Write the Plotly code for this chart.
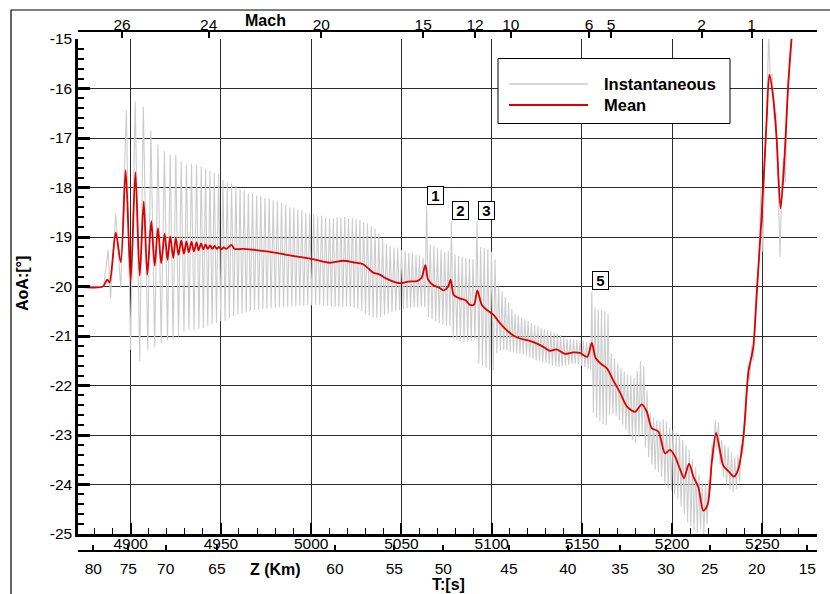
import plotly.graph_objects as go

# ---------------------------------------------------------------------------
# Angle of attack during the entry: instantaneous signal (extrema) and mean
# ---------------------------------------------------------------------------
inst_t = [
    # entry and first large swings
    4871.0, 4885.0, 4887.5, 4888.8, 4891.7, 4894.5, 4897.6, 4899.9, 4902.5, 4905.0,
    4907.0, 4909.5, 4911.2, 4913.3, 4915.1, 4916.9, 4918.7, 4920.4, 4921.9, 4923.5,
    4925.0, 4926.5, 4928.0, 4929.5, 4930.9, 4932.3, 4933.7, 4935.1, 4936.5, 4937.8,
    4939.1, 4940.3, 4941.5, 4942.7, 4943.9, 4945.1, 4946.3, 4947.5, 4948.7, 4949.9,
    # slowly damped oscillation
    4951.1, 4952.3, 4953.5, 4954.7, 4955.9, 4957.1, 4958.3, 4959.4, 4960.6, 4961.7,
    4962.9, 4964.0, 4965.2, 4966.3, 4967.5, 4968.6, 4969.8, 4970.9, 4972.1, 4973.2,
    4974.4, 4975.5, 4976.7, 4977.8, 4979.0, 4980.1, 4981.3, 4982.4, 4983.6, 4984.7,
    4985.9, 4987.0, 4988.2, 4989.3, 4990.4, 4991.5, 4992.6, 4993.7, 4994.8, 4995.9,
    4997.0, 4998.1, 4999.2, 5000.3, 5001.4, 5002.5, 5003.6, 5004.7, 5005.8, 5006.9,
    5008.0, 5009.1, 5010.2,
    5011.2, 5012.3, 5013.3, 5014.4, 5015.4, 5016.5, 5017.5, 5018.6, 5019.6, 5020.7,
    5021.7, 5022.8, 5023.8, 5024.9, 5025.9, 5027.0, 5028.0, 5029.1, 5030.1, 5031.2,
    5032.2, 5033.3, 5034.3, 5035.4, 5036.4, 5037.5, 5038.5, 5039.6, 5040.6, 5041.7,
    5042.7, 5043.8, 5044.8, 5045.9, 5046.9, 5048.0, 5049.0, 5050.1, 5051.1, 5052.1,
    5053.1, 5054.1, 5055.1, 5056.1, 5057.1, 5058.1, 5059.0, 5060.0, 5061.0, 5062.0,
    5063.0, 5064.0,
    # after event 1
    5065.0, 5066.0, 5067.0, 5068.0, 5069.0, 5070.0, 5071.0, 5072.0, 5073.0, 5074.0,
    5075.0, 5076.0, 5076.9, 5077.7,
    # after event 2
    5078.7, 5079.7, 5080.7, 5081.7, 5082.7, 5083.7, 5084.7, 5085.7, 5086.7, 5087.7,
    5088.7, 5089.7, 5090.8, 5091.9,
    # after event 3
    5092.9, 5093.9, 5094.9, 5095.9, 5096.9, 5097.9, 5098.9, 5099.9, 5100.9, 5101.9,
    5102.9, 5103.9, 5104.9,
    5105.8, 5106.7, 5107.6, 5108.5, 5109.4, 5110.3, 5111.2, 5112.1, 5113.0, 5113.9,
    5114.8, 5115.7, 5116.6, 5117.5, 5118.4, 5119.3, 5120.2, 5121.1, 5122.0, 5122.9,
    5123.8, 5124.7, 5125.6, 5126.5, 5127.4, 5128.3, 5129.2, 5130.1, 5131.0, 5131.9,
    5132.8, 5133.7, 5134.6, 5135.5, 5136.4, 5137.3, 5138.2, 5139.1, 5140.0, 5140.9,
    5141.8, 5142.7, 5143.6, 5144.5, 5145.4, 5146.3, 5147.2, 5148.1, 5149.0, 5149.9,
    5150.8, 5151.7, 5152.6, 5153.5, 5154.3, 5154.9, 5155.5,
    # after event 5
    5156.4, 5157.3, 5158.2, 5159.1, 5160.0, 5160.9, 5161.8, 5162.7, 5163.6, 5164.5,
    5165.4,
    5166.3, 5167.2, 5168.1, 5169.0, 5169.9, 5170.8, 5171.7, 5172.6, 5173.5, 5174.4,
    5175.3, 5176.2, 5177.1, 5178.0, 5178.9, 5179.8, 5180.7, 5181.6, 5182.5, 5183.4,
    5184.3, 5185.2, 5186.1, 5187.0, 5187.9, 5188.8, 5189.7, 5190.6, 5191.5, 5192.4,
    5193.3, 5194.2, 5195.1, 5196.0, 5196.9, 5197.8, 5198.7, 5199.6, 5200.5, 5201.4,
    5202.3, 5203.2, 5204.1, 5205.0, 5205.9, 5206.8, 5207.7, 5208.6, 5209.5, 5210.4,
    5211.3, 5212.2, 5213.1, 5214.0, 5214.9, 5215.8, 5216.7, 5217.6, 5218.5, 5219.4,
    5220.3, 5221.2, 5222.1, 5223.0, 5223.9, 5224.8, 5225.7, 5226.6, 5227.5, 5228.4,
    5229.3, 5230.2, 5231.1, 5232.0, 5232.9, 5233.8, 5234.7, 5235.6, 5236.5, 5237.4,
    # transonic pull-up
    5238.3, 5239.2, 5240.1, 5241.0, 5242.0, 5243.0, 5244.0, 5245.0, 5246.0, 5247.0,
    5248.0, 5249.3, 5250.3, 5251.2, 5252.3, 5253.5, 5254.5, 5255.5, 5256.5, 5257.5,
    5258.7, 5259.8, 5260.8, 5261.7, 5262.7, 5263.8, 5265.0, 5266.5,
]
inst_aoa = [
    -20.00, -20.00, -19.26, -20.23, -18.53, -20.03, -16.44, -21.28, -16.26, -21.51,
    -16.37, -21.28, -16.85, -21.22, -17.13, -21.15, -17.27, -21.09, -17.34, -21.06,
    -17.34, -21.01, -17.47, -20.91, -17.54, -20.87, -17.52, -20.88, -17.54, -20.86,
    -17.58, -20.84, -17.62, -20.80, -17.66, -20.76, -17.70, -20.73, -17.72, -20.70,
    -17.85, -20.69, -17.90, -20.64, -17.92, -20.60, -17.96, -20.57, -18.03, -20.54,
    -18.05, -20.52, -18.12, -20.50, -18.11, -20.48, -18.16, -20.47, -18.17, -20.46,
    -18.21, -20.45, -18.22, -20.44, -18.26, -20.43, -18.27, -20.42, -18.31, -20.42,
    -18.34, -20.41, -18.40, -20.40, -18.41, -20.40, -18.45, -20.39, -18.46, -20.39,
    -18.51, -20.38, -18.52, -20.38, -18.54, -20.37, -18.58, -20.37, -18.57, -20.38,
    -18.61, -20.39, -18.62,
    -20.40, -18.62, -20.41, -18.60, -20.42, -18.61, -20.42, -18.59, -20.41, -18.62,
    -20.41, -18.61, -20.43, -18.64, -20.46, -18.65, -20.50, -18.70, -20.55, -18.72,
    -20.59, -18.79, -20.62, -18.84, -20.63, -18.94, -20.62, -19.04, -20.58, -19.14,
    -20.54, -19.17, -20.52, -19.21, -20.50, -19.22, -20.48, -19.27, -20.46, -19.28,
    -20.44, -19.32, -20.43, -19.32, -20.42, -19.37, -20.42, -19.37, -20.41, -19.42,
    -20.42, -18.38,
    -20.62, -19.15, -20.66, -19.18, -20.70, -19.22, -20.74, -19.26, -20.77, -19.30,
    -20.79, -19.28, -20.80, -18.68,
    -21.05, -19.35, -21.08, -19.38, -21.10, -19.40, -21.12, -19.42, -21.12, -19.44,
    -21.10, -19.45, -21.08, -18.68,
    -21.55, -19.20, -21.60, -19.22, -21.64, -19.25, -21.68, -19.30, -21.70, -19.45,
    -21.35, -20.00, -21.30,
    -20.10, -21.28, -20.22, -21.30, -20.32, -21.32, -20.45, -21.33, -20.55, -21.35,
    -20.58, -21.36, -20.62, -21.38, -20.66, -21.40, -20.70, -21.43, -20.74, -21.46,
    -20.78, -21.49, -20.80, -21.51, -20.84, -21.53, -20.86, -21.55, -20.88, -21.57,
    -20.90, -21.60, -20.93, -21.62, -20.95, -21.62, -20.98, -21.61, -21.02, -21.60,
    -21.05, -21.58, -21.06, -21.57, -21.07, -21.56, -21.08, -21.57, -21.10, -21.60,
    -21.10, -21.63, -21.12, -21.66, -21.13, -21.68, -20.10,
    -22.55, -20.42, -22.65, -20.45, -22.72, -20.47, -22.78, -20.50, -22.80, -20.55,
    -22.60,
    -21.35, -22.58, -21.45, -22.62, -21.55, -22.70, -21.65, -22.80, -21.72, -22.90,
    -21.78, -23.00, -21.80, -23.10, -21.85, -23.15, -21.70, -23.05, -21.50, -22.98,
    -21.60, -23.25, -22.10, -23.45, -22.55, -23.60, -22.65, -23.70, -22.70, -23.75,
    -22.72, -23.85, -22.68, -24.00, -22.75, -24.08, -22.85, -24.12, -22.90, -24.20,
    -22.95, -24.30, -23.00, -24.45, -23.10, -24.60, -23.20, -24.75, -23.30, -24.85,
    -23.50, -24.92, -23.65, -24.98, -23.80, -24.90, -23.95, -25.00, -24.00, -24.80,
    -23.90, -24.10, -23.20, -23.50, -22.70, -23.30, -22.75, -23.60, -23.10, -23.85,
    -23.20, -24.00, -23.25, -24.10, -23.35, -24.15, -23.45, -24.10, -23.40, -23.95,
    -23.20, -23.40, -22.90, -22.60, -21.60, -21.90, -21.20, -21.50, -20.60, -20.30,
    -19.50, -18.00, -19.30, -17.60, -16.80, -14.90, -15.90, -15.70, -16.60, -16.50,
    -17.80, -19.40, -18.00, -17.40, -17.90, -16.30, -15.40, -14.80,
]
assert len(inst_t) == len(inst_aoa)

mean_t = [
    4871.0, 4884.5, 4887.0, 4888.3, 4891.7, 4894.5, 4897.2, 4900.0, 4902.6, 4905.0,
    4907.2, 4909.2, 4911.4, 4913.3, 4915.1, 4916.9, 4918.8, 4920.4, 4921.9, 4923.6,
    4925.0, 4926.5, 4928.0, 4929.5, 4930.9, 4932.2, 4933.7, 4935.0, 4936.5, 4937.6,
    4939.0, 4940.2, 4941.5, 4942.7, 4944.0, 4945.2, 4946.5, 4947.7, 4949.0, 4950.2,
    4951.5, 4953.0, 4955.9, 4957.5, 4962.4, 4975.3, 4986.3, 5000.0, 5010.3, 5017.7,
    5023.2, 5028.8, 5031.5, 5034.3, 5038.0, 5041.7, 5047.2, 5050.0, 5053.7, 5058.7,
    5061.1, 5063.3, 5064.8, 5067.5, 5071.2, 5073.4, 5075.8, 5077.3, 5079.0, 5082.3,
    5085.6, 5088.0, 5090.2, 5092.1, 5094.5, 5097.2, 5100.9, 5104.6, 5108.3, 5112.0,
    5115.7, 5120.3, 5124.9, 5128.6, 5132.3, 5136.0, 5140.6, 5145.2, 5148.9, 5153.0,
    5155.5, 5157.7, 5160.9, 5164.0, 5167.3, 5171.0, 5174.9, 5179.5, 5183.2, 5186.0,
    5188.7, 5192.4, 5196.1, 5198.9, 5201.7, 5204.4, 5206.6, 5209.4, 5211.8, 5214.6,
    5217.3, 5219.6, 5222.0, 5224.4, 5226.6, 5228.4, 5231.2, 5234.3, 5236.7, 5239.5,
    5242.3, 5245.0, 5246.9, 5249.1, 5250.9, 5252.4, 5253.9, 5256.1, 5257.9, 5260.1,
    5262.0, 5264.4, 5266.2,
]
mean_aoa = [
    -20.00, -20.00, -19.86, -19.92, -18.91, -19.51, -17.65, -19.88, -17.69, -19.78,
    -18.28, -19.76, -18.68, -19.58, -18.82, -19.53, -18.93, -19.46, -18.99, -19.42,
    -19.02, -19.36, -19.07, -19.34, -19.09, -19.31, -19.10, -19.29, -19.11, -19.27,
    -19.13, -19.25, -19.15, -19.24, -19.17, -19.24, -19.18, -19.24, -19.20, -19.25,
    -19.21, -19.24, -19.16, -19.24, -19.24, -19.29, -19.36, -19.44, -19.52, -19.48,
    -19.51, -19.55, -19.63, -19.72, -19.76, -19.84, -19.92, -19.93, -19.90, -19.89,
    -19.83, -19.57, -19.86, -19.97, -20.03, -20.08, -20.01, -19.86, -20.17, -20.24,
    -20.28, -20.37, -20.37, -20.08, -20.37, -20.47, -20.57, -20.74, -20.88, -20.99,
    -21.05, -21.09, -21.15, -21.22, -21.30, -21.27, -21.36, -21.33, -21.34, -21.42,
    -21.14, -21.45, -21.57, -21.66, -21.89, -22.13, -22.42, -22.53, -22.38, -22.53,
    -22.86, -22.93, -23.37, -23.30, -23.44, -23.69, -23.87, -23.58, -23.84, -24.06,
    -24.53, -24.42, -23.55, -22.96, -23.33, -23.62, -23.73, -23.84, -23.69, -23.04,
    -21.73, -21.22, -20.13, -18.89, -17.72, -16.63, -15.72, -16.20, -17.00, -18.42,
    -17.58, -15.90, -15.00,
]
assert len(mean_t) == len(mean_aoa)

# Secondary scales: flight time at which each altitude / Mach number is reached
alt_km = [80, 75, 70, 65, 60, 55, 50, 45, 40, 35, 30, 25, 20, 15]
alt_t = [4879.3, 4898.7, 4919.4, 4947.8, 5013.2, 5046.1, 5073.2,
         5109.6, 5142.2, 5171.1, 5196.6, 5220.8, 5246.9, 5274.9]
mach_num = [26, 24, 20, 15, 12, 10, 6, 5, 2, 1]
mach_t = [4895.2, 4943.2, 5005.6, 5062.1, 5090.8, 5110.6, 5154.0, 5166.2, 5216.4, 5244.1]

# Flagged excursions of the instantaneous signal
event_labels = ["1", "2", "3", "5"]
event_t = [5064.0, 5077.7, 5091.9, 5155.5]

# Axis ticks
t_ticks = [4900, 4950, 5000, 5050, 5100, 5150, 5200, 5250]
aoa_ticks = [-25, -24, -23, -22, -21, -20, -19, -18, -17, -16, -15]

# ---------------------------------------------------------------------------
# Layout geometry (pixels)
# ---------------------------------------------------------------------------
W, H = 830, 594
ML, MR, MT, MB = 78, 13, 15, 15
PW, PH = W - ML - MR, H - MT - MB
PLOT_TOP, PLOT_BOT = 39, 534


def px(xp):
    return (xp - ML) / PW


def py(yp):
    return (H - MB - yp) / PH


T_RANGE = [4870.8, 5280.3]
FONT = "Arial, Liberation Sans, sans-serif"
tick_font = dict(family=FONT, size=15.5, color="black")
label_font = dict(family=FONT, size=16, color="black", weight="bold")
GRAY = "#cccccc"
RED = "#dd0000"

fig = go.Figure()
fig.add_trace(go.Scatter(
    x=inst_t, y=inst_aoa, mode="lines", name="Instantaneous",
    line=dict(color=GRAY, width=1.1), showlegend=False, hoverinfo="skip",
))
fig.add_trace(go.Scatter(
    x=mean_t, y=mean_aoa, mode="lines", name="Mean",
    line=dict(color=RED, width=1.8, shape="spline", smoothing=0.8),
    showlegend=False,
))
# carriers for the Mach and altitude scales (no visible marks)
fig.add_trace(go.Scatter(x=mach_t, y=[None] * len(mach_t), xaxis="x2", yaxis="y",
                         mode="markers", showlegend=False, hoverinfo="skip"))
fig.add_trace(go.Scatter(x=alt_t, y=[None] * len(alt_t), xaxis="x3", yaxis="y",
                         mode="markers", showlegend=False, hoverinfo="skip"))

fig.update_layout(
    width=W, height=H,
    margin=dict(l=ML, r=MR, t=MT, b=MB, autoexpand=False),
    paper_bgcolor="white", plot_bgcolor="white",
    showlegend=False,
    xaxis=dict(
        range=T_RANGE, domain=[0, 1], anchor="y", automargin=False,
        tickmode="array", tickvals=t_ticks, ticktext=[str(v) for v in t_ticks],
        ticks="inside", ticklen=11, tickwidth=2, tickcolor="black",
        minor=dict(tickmode="linear", tick0=4900, dtick=10, ticks="inside",
                   ticklen=6, tickwidth=1, tickcolor="black", showgrid=False),
        showline=True, linecolor="black", linewidth=2.5,
        showgrid=True, gridcolor="#2b2b2b", gridwidth=1, zeroline=False,
        tickfont=tick_font, ticklabelstandoff=-6,
    ),
    yaxis=dict(
        range=[-25, -15], domain=[py(PLOT_BOT), py(PLOT_TOP)], anchor="x", automargin=False,
        tickmode="array", tickvals=aoa_ticks, ticktext=[str(v) for v in aoa_ticks],
        ticks="inside", ticklen=12, tickwidth=2.5, tickcolor="black",
        minor=dict(tickmode="linear", tick0=-25, dtick=0.2, ticks="inside",
                   ticklen=6, tickwidth=1.5, tickcolor="black", showgrid=False),
        showline=True, linecolor="black", linewidth=2.5,
        showgrid=True, gridcolor="#2b2b2b", gridwidth=1, zeroline=False,
        tickfont=tick_font, ticklabelstandoff=0,
    ),
    xaxis2=dict(
        range=T_RANGE, overlaying="x", anchor="free", position=py(31), side="top",
        automargin=False,
        tickmode="array", tickvals=mach_t, ticktext=[str(v) for v in mach_num],
        ticks="inside", ticklen=6, tickwidth=2, tickcolor="black",
        showline=True, linecolor="black", linewidth=2,
        showgrid=False, zeroline=False, tickfont=tick_font, ticklabelstandoff=-6,
    ),
    xaxis3=dict(
        range=T_RANGE, overlaying="x", anchor="free", position=py(551), side="bottom",
        automargin=False,
        tickmode="array", tickvals=alt_t, ticktext=[str(v) for v in alt_km],
        ticks="inside", ticklen=5, tickwidth=2, tickcolor="black",
        showline=True, linecolor="black", linewidth=2,
        showgrid=False, zeroline=False, tickfont=tick_font, ticklabelstandoff=3,
    ),
)

# axis titles
titles = [
    ("Mach", 265, 21, 0),
    ("Z (Km)", 275, 569, 0),
    ("T:[s]", 448, 584, 0),
    ("AoA:[°]", 22, 284, -90),
]
for text, xp, yp, ang in titles:
    fig.add_annotation(text=text, x=px(xp), y=py(yp), xref="paper", yref="paper",
                       showarrow=False, textangle=ang, font=label_font,
                       xanchor="center", yanchor="middle")

# event markers above the excursions
for lab, te in zip(event_labels, event_t):
    peak = inst_aoa[inst_t.index(te)]
    fig.add_annotation(text=lab, x=te, y=peak, xref="x", yref="y", showarrow=False,
                       xshift=9, yshift=11, font=dict(family=FONT, size=15, color="black", weight="bold"),
                       bgcolor="white", bordercolor="black", borderwidth=1, borderpad=1,
                       width=13, height=15)

# legend box
fig.add_shape(type="rect", xref="paper", yref="paper",
              x0=px(498), x1=px(730), y0=py(123.5), y1=py(58.5),
              line=dict(color="black", width=1), fillcolor="white", layer="above")
legend_rows = [("Instantaneous", GRAY, 1.5, 84), ("Mean", RED, 1.8, 105)]
for name, col, lw, yp in legend_rows:
    fig.add_shape(type="line", xref="paper", yref="paper",
                  x0=px(509), x1=px(588), y0=py(yp), y1=py(yp),
                  line=dict(color=col, width=lw), layer="above")
    fig.add_annotation(text=name, x=px(602), y=py(yp), xref="paper", yref="paper",
                       showarrow=False, xanchor="left", yanchor="middle",
                       font=dict(family=FONT, size=16.5, color="black", weight="bold"))

# outer frame
fig.add_shape(type="rect", xref="paper", yref="paper",
              x0=px(11), x1=px(W + 20), y0=py(H + 20), y1=py(10),
              line=dict(color="black", width=1.2), fillcolor="rgba(0,0,0,0)", layer="above")

fig.write_html("out.html")
